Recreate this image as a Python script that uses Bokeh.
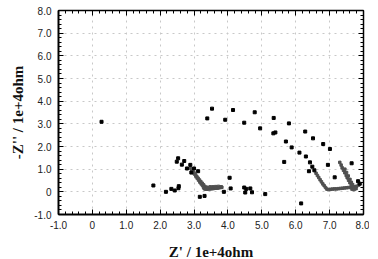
from bokeh.plotting import figure
from bokeh.models import LinearAxis, FixedTicker, Range1d
from bokeh.embed import file_html
from bokeh.resources import INLINE

# Sparse measured points (Z', -Z'') in 1e+4 ohm
sparse_x = [0.27, 1.80, 2.17, 2.33, 2.43, 2.55, 2.54, 3.17, 3.31, 3.88, 4.08, 4.05, 4.48, 4.54,
            4.66, 4.71, 4.51, 5.10, 6.16,
            3.53, 3.39, 4.15, 3.92, 4.79, 4.48, 4.95, 5.35, 5.34, 5.40, 5.80, 5.71, 6.28, 5.88,
            6.51, 6.11, 6.81, 6.30, 7.01, 6.42, 5.66, 6.49, 6.39, 6.55, 6.95, 7.15, 7.65,
            2.53, 2.49, 2.71, 2.89, 2.64, 2.79, 3.00, 3.12, 2.92, 7.84, 7.89]
sparse_y = [3.09, 0.28, 0.00, 0.13, 0.06, 0.25, 0.16, -0.22, -0.18, 0.00, 0.15, 0.62, 0.19, 0.13,
            0.15, -0.02, -0.03, -0.10, -0.51,
            3.67, 3.24, 3.61, 3.18, 3.51, 3.05, 2.80, 3.26, 2.58, 2.62, 3.02, 2.22, 2.66, 1.96,
            2.36, 1.73, 2.11, 1.56, 1.89, 1.30, 1.32, 1.11, 0.91, 0.95, 1.19, 0.64, 1.26,
            1.48, 1.33, 1.36, 1.19, 1.20, 1.03, 1.03, 0.91, 0.85, 0.47, 0.36]

# Dense arcs / tails
dense_x = [2.89, 2.93, 2.97, 3.01, 3.05, 3.09, 3.13, 3.17, 3.21, 3.25, 3.28, 3.30,
           3.00, 3.04, 3.08, 3.12, 3.16, 3.20, 3.24, 3.28, 3.32, 3.36,
           3.34, 3.38, 3.42, 3.46, 3.50, 3.54, 3.58, 3.62, 3.66, 3.70, 3.74, 3.78, 3.82,
           3.40, 3.48, 3.56, 3.64, 3.72, 3.80,
           6.60, 6.64, 6.68, 6.72, 6.76, 6.80, 6.84, 6.88, 6.92,
           6.96, 7.02, 7.08, 7.14, 7.20, 7.26, 7.32, 7.38, 7.44, 7.50, 7.56, 7.62,
           7.30, 7.34, 7.37, 7.41, 7.45, 7.49, 7.52, 7.56, 7.60, 7.64, 7.68,
           7.45, 7.50, 7.55, 7.60, 7.64, 7.68, 7.72, 7.74,
           7.66, 7.70, 7.72, 7.76, 7.78, 7.80, 7.86]
dense_y = [1.05, 0.96, 0.88, 0.79, 0.70, 0.61, 0.52, 0.43, 0.35, 0.28, 0.20, 0.14,
           0.84, 0.76, 0.68, 0.60, 0.52, 0.45, 0.38, 0.31, 0.24, 0.19,
           0.12, 0.12, 0.13, 0.13, 0.14, 0.14, 0.15, 0.16, 0.16, 0.17, 0.18, 0.19, 0.20,
           0.20, 0.22, 0.22, 0.23, 0.24, 0.22,
           0.82, 0.72, 0.63, 0.53, 0.44, 0.35, 0.27, 0.19, 0.12,
           0.10, 0.11, 0.12, 0.13, 0.13, 0.14, 0.15, 0.16, 0.17, 0.18, 0.19, 0.20,
           1.30, 1.18, 1.06, 0.95, 0.84, 0.72, 0.62, 0.51, 0.40, 0.30, 0.20,
           1.00, 0.85, 0.70, 0.55, 0.42, 0.32, 0.22, 0.15,
           0.12, 0.16, 0.10, 0.20, 0.14, 0.25, 0.30]

x_ticks = [-1, 0, 1, 2, 3, 4, 5, 6, 7, 8]
x_tick_labels = ["-1.0", "0", "1.0", "2.0", "3.0", "4.0", "5.0", "6.0", "7.0", "8.0"]
y_ticks = [-1, 0, 1, 2, 3, 4, 5, 6, 7, 8]
y_tick_labels = ["-1.0", "0", "1.0", "2.0", "3.0", "4.0", "5.0", "6.0", "7.0", "8.0"]
minor = [t / 5 for t in range(-5, 41)]

p = figure(frame_width=305, frame_height=204, output_backend="svg", toolbar_location=None,
           x_range=Range1d(-1, 8), y_range=Range1d(-1, 8),
           min_border_left=58, min_border_right=6, min_border_top=10, min_border_bottom=20,
           x_axis_label="Z' / 1e+4ohm", y_axis_label="-Z'' / 1e+4ohm")
p.outline_line_color = None
p.background_fill_color = "white"
p.border_fill_color = "white"

for ax, ticks, labels in ((p.xaxis[0], x_ticks, x_tick_labels), (p.yaxis[0], y_ticks, y_tick_labels)):
    ax.ticker = FixedTicker(ticks=ticks, minor_ticks=minor)
    ax.major_label_overrides = {t: l for t, l in zip(ticks, labels)}
    ax.major_label_text_font = "Liberation Sans"
    ax.major_label_text_font_size = "10px"
    ax.major_label_text_color = "#222222"
    ax.axis_label_text_font = "Liberation Serif"
    ax.axis_label_text_font_style = "bold"
    ax.axis_label_text_font_size = "15px"
    ax.axis_label_text_color = "#111111"
    ax.axis_line_width = 2
    ax.axis_line_color = "black"
    ax.major_tick_in = 5
    ax.major_tick_out = 0
    ax.minor_tick_in = 3
    ax.minor_tick_out = 0
    ax.major_tick_line_color = "black"
    ax.minor_tick_line_color = "black"

p.xaxis.major_label_standoff = 6
p.xaxis.axis_label_standoff = 12
p.yaxis.major_label_standoff = 7
p.yaxis.axis_label_standoff = 5

for loc, ticks in (("above", x_ticks), ("right", y_ticks)):
    ax = LinearAxis(ticker=FixedTicker(ticks=ticks, minor_ticks=minor))
    ax.major_label_overrides = {t: "" for t in ticks}
    ax.major_label_standoff = 0
    ax.axis_line_width = 1.5
    ax.major_tick_in = 5
    ax.major_tick_out = 0
    ax.minor_tick_in = 3
    ax.minor_tick_out = 0
    p.add_layout(ax, loc)

p.grid.grid_line_color = "#c8c8c8"
p.grid.grid_line_dash = "2 4"
p.grid.grid_line_width = 1
p.xgrid.ticker = FixedTicker(ticks=x_ticks)
p.ygrid.ticker = FixedTicker(ticks=y_ticks)

p.scatter(dense_x, dense_y, size=2.5, color="#505050", marker="square")
p.scatter(sparse_x, sparse_y, size=3, color="black", marker="square")

open("out.html", "w").write(file_html(p, INLINE))
